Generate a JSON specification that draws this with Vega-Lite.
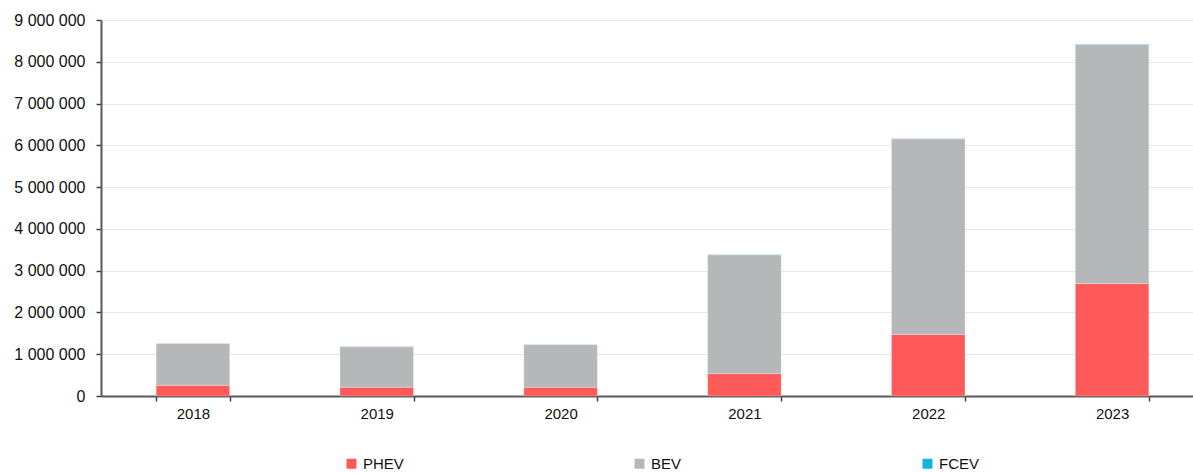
{
  "$schema": "https://vega.github.io/schema/vega-lite/v6.json",
  "autosize": {"type": "none"},
  "width": 1103,
  "height": 376,
  "padding": {"left": 101, "top": 20, "right": 0, "bottom": 77},
  "background": "#ffffff",
  "config": {
    "locale": {"number": {"decimal": ",", "thousands": " ", "grouping": [3], "currency": ["", " €"]}},
    "font": "Liberation Sans",
    "view": {"stroke": null},
    "axis": {"labelFont": "Liberation Sans", "labelFontSize": 16, "labelColor": "#111111"}
  },
  "data": {
    "values": [
      {"year": "2018", "type": "PHEV", "k": 1, "sales": 255000},
      {"year": "2018", "type": "BEV", "k": 2, "sales": 1005000},
      {"year": "2018", "type": "FCEV", "k": 3, "sales": 5000},
      {"year": "2019", "type": "PHEV", "k": 1, "sales": 210000},
      {"year": "2019", "type": "BEV", "k": 2, "sales": 968000},
      {"year": "2019", "type": "FCEV", "k": 3, "sales": 7000},
      {"year": "2020", "type": "PHEV", "k": 1, "sales": 210000},
      {"year": "2020", "type": "BEV", "k": 2, "sales": 1018000},
      {"year": "2020", "type": "FCEV", "k": 3, "sales": 7000},
      {"year": "2021", "type": "PHEV", "k": 1, "sales": 535000},
      {"year": "2021", "type": "BEV", "k": 2, "sales": 2845000},
      {"year": "2021", "type": "FCEV", "k": 3, "sales": 8000},
      {"year": "2022", "type": "PHEV", "k": 1, "sales": 1475000},
      {"year": "2022", "type": "BEV", "k": 2, "sales": 4680000},
      {"year": "2022", "type": "FCEV", "k": 3, "sales": 8000},
      {"year": "2023", "type": "PHEV", "k": 1, "sales": 2690000},
      {"year": "2023", "type": "BEV", "k": 2, "sales": 5720000},
      {"year": "2023", "type": "FCEV", "k": 3, "sales": 12000}
    ]
  },
  "mark": {"type": "bar", "stroke": "#ffffff", "strokeWidth": 0.5, "strokeOpacity": 0.5},
  "encoding": {
    "x": {
      "field": "year", "type": "nominal", "title": null,
      "scale": {"paddingInner": 0.6, "paddingOuter": 0.3},
      "axis": {"labelAngle": 0, "tickBand": "extent", "tickSize": 5, "tickColor": "#404040", "tickWidth": 1.5, "domainColor": "#595959", "domainWidth": 2, "labelPadding": 5, "labelFontSize": 15, "grid": false}
    },
    "y": {
      "field": "sales", "type": "quantitative", "aggregate": "sum", "stack": "zero", "title": null,
      "scale": {"domain": [0, 9000000]},
      "axis": {"values": [0, 1000000, 2000000, 3000000, 4000000, 5000000, 6000000, 7000000, 8000000, 9000000], "format": ",d", "grid": true, "gridColor": "#e6e6e6", "gridWidth": 1.2, "tickSize": 5, "tickColor": "#404040", "tickWidth": 1.5, "domainColor": "#595959", "domainWidth": 2, "labelPadding": 11}
    },
    "color": {
      "field": "type", "type": "nominal",
      "scale": {"domain": ["PHEV", "BEV", "FCEV"], "range": ["#ff5a5a", "#b6b7b9", "#14b4e1"]},
      "legend": {"title": null, "orient": "none", "legendX": 243, "legendY": 436, "direction": "horizontal", "columns": 3, "gridAlign": "all", "columnPadding": 228, "symbolType": "square", "symbolSize": 100, "symbolStrokeWidth": 0, "symbolOffset": 0, "labelOffset": 4, "labelFont": "Liberation Sans", "labelFontSize": 15, "labelColor": "#111111"}
    },
    "order": {"field": "k", "type": "quantitative"}
  }
}
